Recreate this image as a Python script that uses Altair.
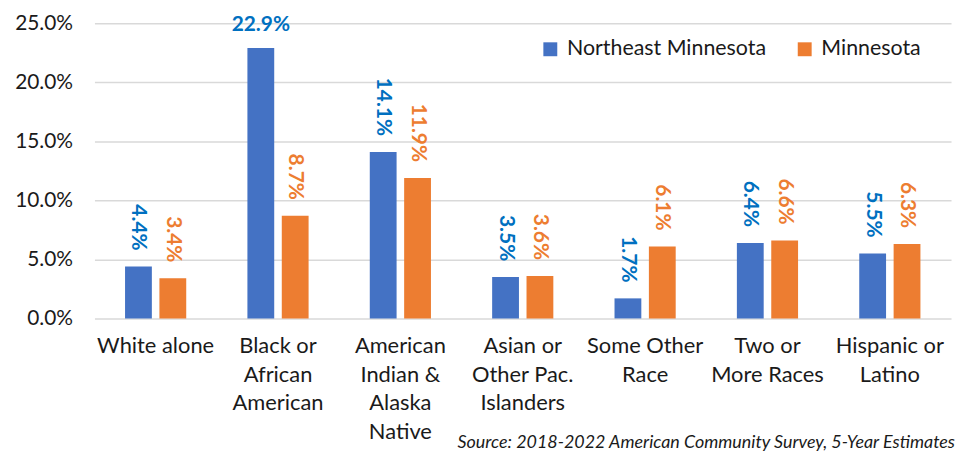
import altair as alt
import pandas as pd

categories = [
    "White alone",
    "Black or\nAfrican\nAmerican",
    "American\nIndian &\nAlaska\nNative",
    "Asian or\nOther Pac.\nIslanders",
    "Some Other\nRace",
    "Two or\nMore Races",
    "Hispanic or\nLatino",
]
series = ["Northeast Minnesota", "Minnesota"]
northeast = [4.4, 22.9, 14.1, 3.5, 1.7, 6.4, 5.5]
minnesota = [3.4, 8.7, 11.9, 3.6, 6.1, 6.6, 6.3]
y_ticks = [0, 5, 10, 15, 20, 25]
source_note = ["Source: 2018-2022 American Community Survey, 5-Year Estimates"]

rows = []
for c, a, b in zip(categories, northeast, minnesota):
    rows.append({"category": c, "series": series[0], "value": a})
    rows.append({"category": c, "series": series[1], "value": b})
df = pd.DataFrame(rows)

W, H = 862, 297
FONT = "Lato"

x = alt.X(
    "category:N",
    sort=categories,
    scale=alt.Scale(paddingInner=0.5, paddingOuter=0.25),
    axis=alt.Axis(
        title=None, labelAngle=0, labelExpr="split(datum.label, '\\n')",
        labelFont=FONT, labelFontSize=22, labelColor="#1a1a1a",
        labelPadding=17, labelLineHeight=29, labelBaseline="top",
        ticks=False, domain=False, labelLimit=300,
    ),
)
xo = alt.XOffset("series:N", sort=series, scale=alt.Scale(paddingInner=0.22))
y = alt.Y(
    "value:Q",
    scale=alt.Scale(domain=[0, 25], nice=False),
    axis=alt.Axis(
        title=None, values=y_ticks, labelExpr="format(datum.value, '.1f') + '%'",
        labelFont=FONT, labelFontSize=21, labelColor="#1a1a1a", labelPadding=22,
        ticks=False, domain=False, gridColor="#d9d9d9", gridWidth=1.4,
    ),
)

base = alt.Chart(df).transform_calculate(
    label="format(datum.value, '.1f') + '%'"
)

bars = base.mark_bar().encode(
    x=x, xOffset=xo, y=y,
    color=alt.Color(
        "series:N", sort=series,
        scale=alt.Scale(domain=series, range=["#4472C4", "#ED7D31"]),
        legend=alt.Legend(
            title=None, orient="none", legendX=448, legendY=15,
            direction="horizontal", columns=2, symbolType="square",
            symbolSize=196, symbolStrokeWidth=0, labelFont=FONT,
            labelFontSize=21.5, labelColor="#1a1a1a", labelOffset=6,
            columnPadding=28, padding=0, labelLimit=400,
        ),
    ),
)

txt_color = alt.condition(
    alt.datum.series == series[0], alt.value("#0070C0"), alt.value("#ED7D31")
)

rot_labels = base.transform_filter(alt.datum.value < 20).mark_text(
    angle=90, align="right", baseline="middle", dx=-16,
    font=FONT, fontWeight="bold", fontSize=21,
).encode(x=x, xOffset=xo, y=y, text="label:N", color=txt_color)

flat_labels = base.transform_filter(alt.datum.value >= 20).mark_text(
    align="center", baseline="alphabetic", dy=-17,
    font=FONT, fontWeight="bold", fontSize=21,
).encode(x=x, xOffset=xo, y=y, text="label:N", color=txt_color)

note = alt.Chart(pd.DataFrame({"t": source_note})).mark_text(
    align="right", baseline="alphabetic", font=FONT, fontStyle="italic",
    fontSize=18, color="#1a1a1a",
).encode(x=alt.value(W + 4), y=alt.value(H + 130), text="t:N")

chart = alt.layer(bars, rot_labels, flat_labels, note).properties(
    width=W, height=H,
    padding={"left": 6, "top": 3, "right": 0, "bottom": 0},
).configure_view(stroke=None)

chart.save("out.html", embed_options={"renderer": "svg", "actions": False})
